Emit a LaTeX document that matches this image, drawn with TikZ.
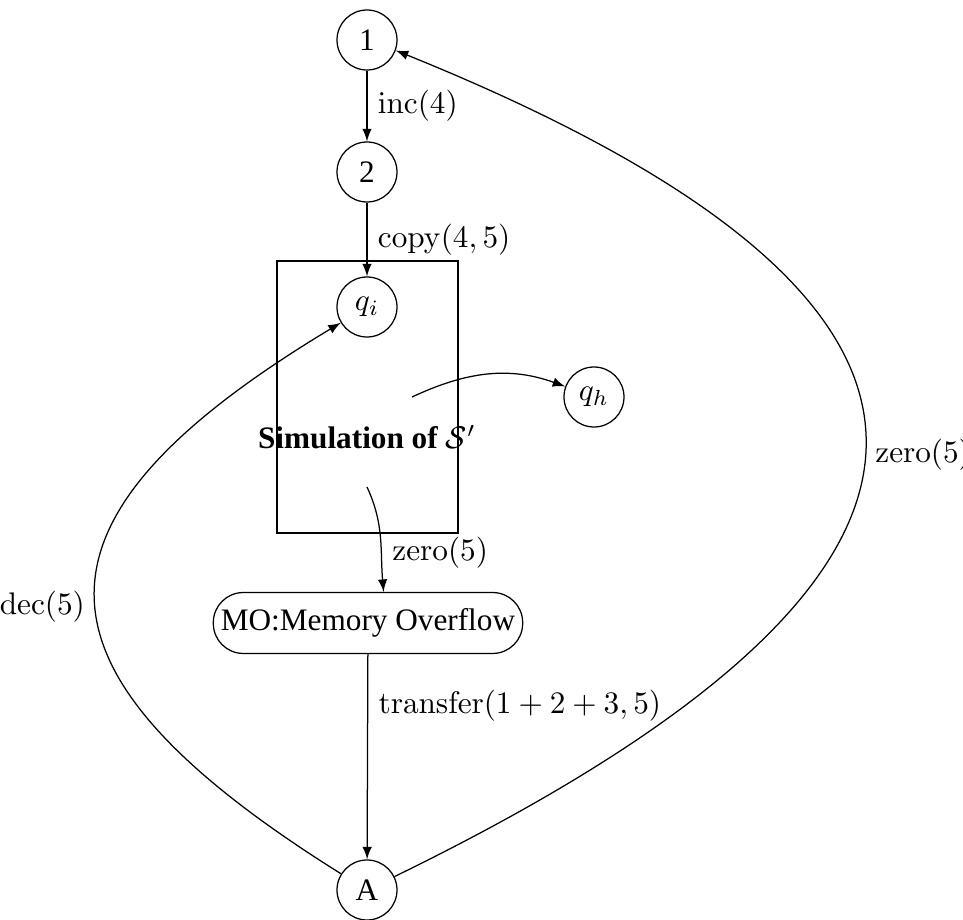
\documentclass[tikz,border=0pt]{standalone}
\usepackage[no-math]{fontspec}
\setmainfont{Liberation Serif}
\usepackage{amsmath}

\begin{document}
\begin{tikzpicture}[x=0.32pt, y=0.32pt, ->, >=latex,
    st/.style={circle,draw,minimum size=19.2pt,inner sep=1pt},
    lbl/.style={inner sep=3.3pt}]
  \useasboundingbox (0,0) rectangle (963,920);
  % vertices
  \node[st] (n1) at (367,880) {1};
  \node[st] (n2) at (367,748) {2};
  \node[draw,minimum width=58pt,minimum height=87pt] (sim) at (367.5,523) {};
  \node[st] (qi) at (367,613) {$q_i$};
  \node[st] (qh) at (594,523) {$q_h$};
  \node (simtext) at (367,483) {\textbf{Simulation of} $\mathcal{S}'$};
  \node[draw,rounded corners=9.6pt,minimum width=99pt,minimum height=19.5pt,inner xsep=2pt] (MO) at (368,297) {MO:Memory Overflow};
  \node[st] (A) at (367,30) {A};
  \coordinate (s1) at (412,523);
  \coordinate (s2) at (367,433);
  % edges
  \draw (n1) -- node[lbl,right] {$\mathrm{inc}(4)$} (n2);
  \draw (n2) -- node[lbl,right] {$\mathrm{copy}(4,5)$} (qi);
  \draw (s1) to[out=25,in=160] (qh);
  \draw (s2) to[out=-65,in=95] node[lbl,pos=0.65,right] {$\mathrm{zero}(5)$} ([xshift=5pt]MO.north);
  \draw (MO) -- node[lbl,pos=0.25,right] {$\mathrm{transfer}(1+2+3,5)$} (A);
  % long way back
  \draw (A.148) .. controls +(148:384) and +(211:384) .. node[lbl,pos=0.48,left] {$\mathrm{dec}(5)$} (qi.211);
  \draw (A.26) .. controls +(26:660) and +(-22:710) .. node[lbl,pos=0.5,right] {$\mathrm{zero}(5)$} (n1.-20);
\end{tikzpicture}
\end{document}
